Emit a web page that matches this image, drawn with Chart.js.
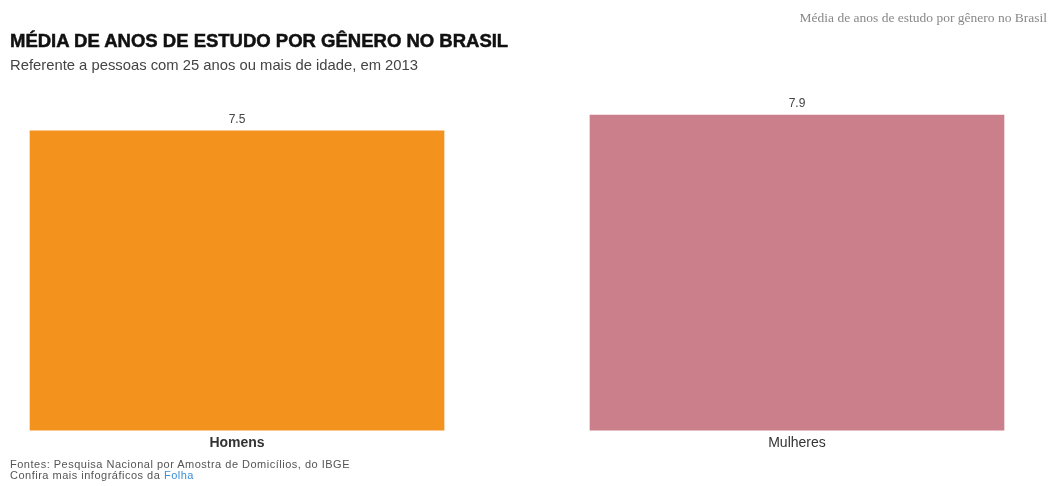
<!DOCTYPE html>
<html lang="pt-br">
<head>
  <meta charset="UTF-8">
  <title>Média de anos de estudo por gênero no Brasil</title>
  <script src="https://cdn.jsdelivr.net/npm/chart.js"></script>
  <style>
    body {
      margin: 0;
      background: #fff;
      font-family: "Liberation Sans", Arial, sans-serif;
      width: 1051px;
      height: 486px;
      position: relative;
      overflow: hidden;
    }

    #grafico {
      position: absolute;
      left: 0;
      top: 0;
    }

    .txt {
      position: absolute;
      white-space: nowrap;
    }

    #cabecalho {
      right: 4px;
      top: 10px;
      font-family: "Liberation Serif", serif;
      font-size: 13.5px;
      color: #888;
    }

    #titulo {
      left: 10px;
      top: 30px;
      font-size: 18.5px;
      font-weight: bold;
      color: #111;
      line-height: 22px;
      -webkit-text-stroke: 0.5px #111;
    }

    #subtitulo {
      left: 10px;
      top: 56px;
      font-size: 14.8px;
      color: #444;
      line-height: 18px;
    }

    #fontes {
      left: 10px;
      top: 459px;
      font-size: 11px;
      letter-spacing: 0.5px;
      color: #555;
      line-height: 11px;
    }

    #fontes a {
      color: #3a8fd8;
      text-decoration: none;
    }
  </style>
</head>
<body>
  <canvas id="grafico" width="1051" height="486"></canvas>

  <div class="txt" id="cabecalho">Média de anos de estudo por gênero no Brasil</div>
  <div class="txt" id="titulo">MÉDIA DE ANOS DE ESTUDO POR GÊNERO NO BRASIL</div>
  <div class="txt" id="subtitulo">Referente a pessoas com 25 anos ou mais de idade, em 2013</div>
  <div class="txt" id="fontes">
    Fontes: Pesquisa Nacional por Amostra de Domicílios, do IBGE<br>
    Confira mais infográficos da <a href="#">Folha</a>
  </div>

  <script>
    const generos = ['Homens', 'Mulheres'];
    const mediaAnos = [7.5, 7.9];
    const cores = ['#f4921e', '#cb7f8b'];

    // escreve o valor em cima de cada barra
    const rotulosValor = {
      id: 'rotulosValor',
      afterDatasetsDraw(chart) {
        const ctx = chart.ctx;
        const meta = chart.getDatasetMeta(0);
        ctx.save();
        ctx.font = '12px "Liberation Sans", Arial, sans-serif';
        ctx.fillStyle = '#444';
        ctx.textAlign = 'center';
        ctx.textBaseline = 'bottom';
        meta.data.forEach((barra, i) => {
          ctx.fillText(mediaAnos[i].toFixed(1), barra.x, barra.y - 5);
        });
        ctx.restore();
      }
    };

    new Chart(document.getElementById('grafico'), {
      type: 'bar',
      data: {
        labels: generos,
        datasets: [{
          data: mediaAnos,
          backgroundColor: cores,
          borderWidth: 0,
          barThickness: 414,
          clip: false
        }]
      },
      options: {
        responsive: false,
        animation: false,
        layout: {
          padding: { left: 237, right: 254, top: 111, bottom: 29 }
        },
        plugins: {
          legend: { display: false },
          tooltip: { enabled: false }
        },
        scales: {
          x: {
            offset: false,
            grid: { display: false, drawTicks: false },
            border: { display: false },
            ticks: {
              padding: 5,
              color: '#333',
              font: (c) => ({
                family: '"Liberation Sans", Arial, sans-serif',
                size: 14,
                weight: c.index === 0 ? 'bold' : 'normal'
              })
            }
          },
          y: {
            display: false,
            min: 0,
            max: 8
          }
        }
      },
      plugins: [rotulosValor]
    });
  </script>
</body>
</html>
